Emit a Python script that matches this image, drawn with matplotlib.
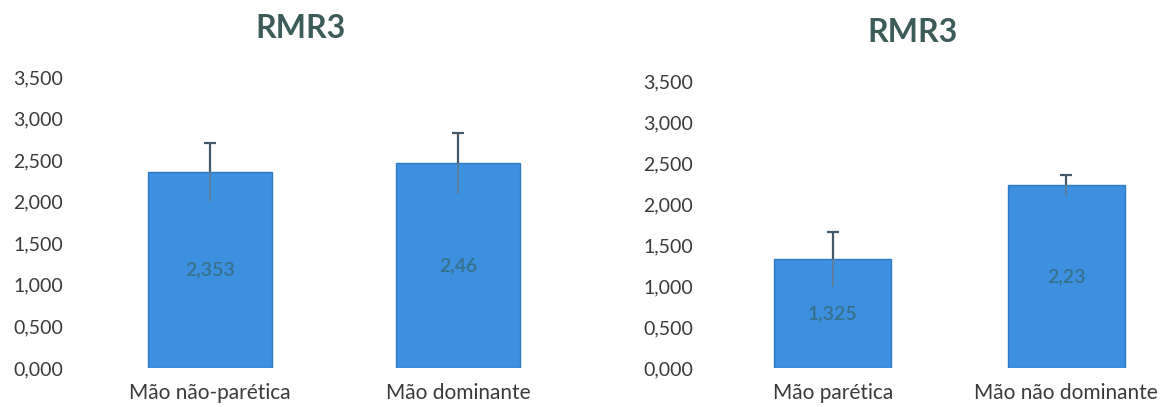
import matplotlib
matplotlib.use("Agg")
import matplotlib.pyplot as plt
import numpy as np

# RMR3 means and standard deviations per hand
title = "RMR3"
cats_left = ["Mão não-parética", "Mão dominante"]
vals_left = [2.353, 2.46]
err_left = [0.35, 0.37]
labels_left = ["2,353", "2,46"]

cats_right = ["Mão parética", "Mão não dominante"]
vals_right = [1.325, 2.23]
err_right = [0.33, 0.13]
labels_right = ["1,325", "2,23"]

yticks = [0.0, 0.5, 1.0, 1.5, 2.0, 2.5, 3.0, 3.5]

plt.rcParams["font.family"] = ["Lato", "DejaVu Sans"]

BAR = "#3d8fdf"
EDGE = "#2f78c4"
ERR = "#44596a"
ERR_IN = "#5b7e9c"
VALTXT = "#36718a"
TICKTXT = "#3a3a3a"
TITLE = "#3b5c59"

W, H = 1163, 407
fig = plt.figure(figsize=(W / 100, H / 100), dpi=100)


def panel(rect, xlim, cats, vals, errs, labels, ypad):
    ax = fig.add_axes(rect)
    x = np.arange(len(cats))
    v = np.asarray(vals)
    e = np.asarray(errs)
    ax.bar(x, v, width=0.5, color=BAR, edgecolor=EDGE, linewidth=1.0, zorder=2)
    # upper whisker with cap, lower whisker seen through the bar
    ax.vlines(x, v, v + e, color=ERR, linewidth=1.6, zorder=3)
    ax.plot(x, v + e, linestyle="none", marker="_", markersize=8,
            markeredgewidth=1.6, color=ERR, zorder=3)
    ax.vlines(x, v - e, v, color=ERR_IN, linewidth=1.4, zorder=3)
    for xi, vi, t in zip(x, v, labels):
        ax.text(xi, vi / 2, t, ha="center", va="center", fontsize=14,
                fontweight="semibold", color=VALTXT, zorder=4)
    ax.set_xlim(*xlim)
    ax.set_ylim(0, 3.5)
    ax.set_yticks(yticks)
    ax.set_yticklabels([f"{t:.3f}".replace(".", ",") for t in yticks])
    ax.set_xticks(x)
    ax.set_xticklabels(cats)
    ax.tick_params(axis="y", length=0, pad=ypad, labelsize=14, labelcolor=TICKTXT)
    ax.tick_params(axis="x", length=0, pad=11, labelsize=15, labelcolor=TICKTXT)
    for s in ax.spines.values():
        s.set_visible(False)
    return ax


bottom = (H - 368) / H
height = 291 / H

# left chart: categories 248 px apart, first at x=210
panel([86 / W, bottom, 496 / W, height], (-0.5, 1.5),
      cats_left, vals_left, err_left, labels_left, ypad=16.5)
# right chart: categories 233.5 px apart, first at x=833
panel([716 / W, bottom, 1.9 * 233.5 / W, height * 0.985], (-0.5, 1.4),
      cats_right, vals_right, err_right, labels_right, ypad=16.5)

fig.text(300 / W, 1 - 29 / H, title, ha="center", va="center", fontsize=23,
         fontweight="bold", color=TITLE)
fig.text(912 / W, 1 - 33 / H, title, ha="center", va="center", fontsize=23,
         fontweight="bold", color=TITLE)

fig.savefig("out.png", dpi=100, facecolor="white")
